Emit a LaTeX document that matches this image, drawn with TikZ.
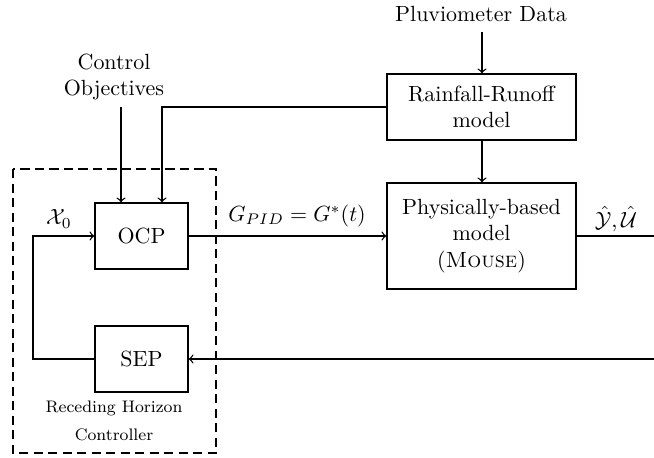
\documentclass[tikz,border=0pt]{standalone}
\usetikzlibrary{arrows}
\begin{document}
\begin{tikzpicture}[x=0.455pt,y=-0.455pt,
  blk/.style={draw,semithick,align=center,inner sep=0pt},
  con/.style={semithick,->,>=to},
  lnk/.style={semithick}]
\useasboundingbox (0,0) rectangle (654,457);
% dashed controller frame
\draw[semithick,dash pattern=on 4.2pt off 2.4pt] (13,169) rectangle (216,453);
% blocks
\node[blk,minimum width=42.3pt,minimum height=30pt] (ocp) at (141.5,236) {OCP};
\node[blk,minimum width=42.3pt,minimum height=30pt] (sep) at (141.5,359) {SEP};
\node[blk,minimum width=86pt,minimum height=30pt] (rr) at (481.5,107) {Rainfall-Runoff\\model};
\node[blk,minimum width=86pt,minimum height=48.2pt] (phy) at (481.5,236) {Physically-based\\model\\(\textsc{Mouse})};
% texts
\node[align=center] (ctl) at (114,77) {Control\\Objectives};
\node (pluv) at (481,14) {Pluviometer Data};
\node[font=\fontsize{7.6}{9}\selectfont,align=center] (rhc) at (114,421) {Receding Horizon\\[3.6pt]Controller};
% coordinates
\coordinate (c1) at (121,107);
\coordinate (c2) at (162,107);
\coordinate (p1) at (482,32);
\coordinate (lp) at (33,0);
\coordinate (outE) at (654,236);
\coordinate (fbE) at (654,359);
\coordinate (gpos) at (297,216);
% connectors
\draw[con] (c1) -- (c1 |- ocp.north);
\draw[con] (rr.west) -- (c2) -- (c2 |- ocp.north);
\draw[con] (p1) -- (p1 |- rr.north);
\draw[con] (rr.south -| p1) -- (p1 |- phy.north);
\draw[con] (ocp.east) -- (phy.west);
\node (glab) at (gpos) {$G_{PID} = G^{*}(t)$};
\draw[lnk] (phy.east) -- (outE);
\node (ylab) at (616,219) {$\hat{\mathcal{Y}},\hat{\mathcal{U}}$};
\draw[con] (fbE) -- (sep.east);
\draw[con] (sep.west) -- (sep.west -| lp) -- (ocp.west -| lp) -- (ocp.west);
\node (xlab) at (59,219) {$\mathcal{X}_0$};
\end{tikzpicture}
\end{document}
